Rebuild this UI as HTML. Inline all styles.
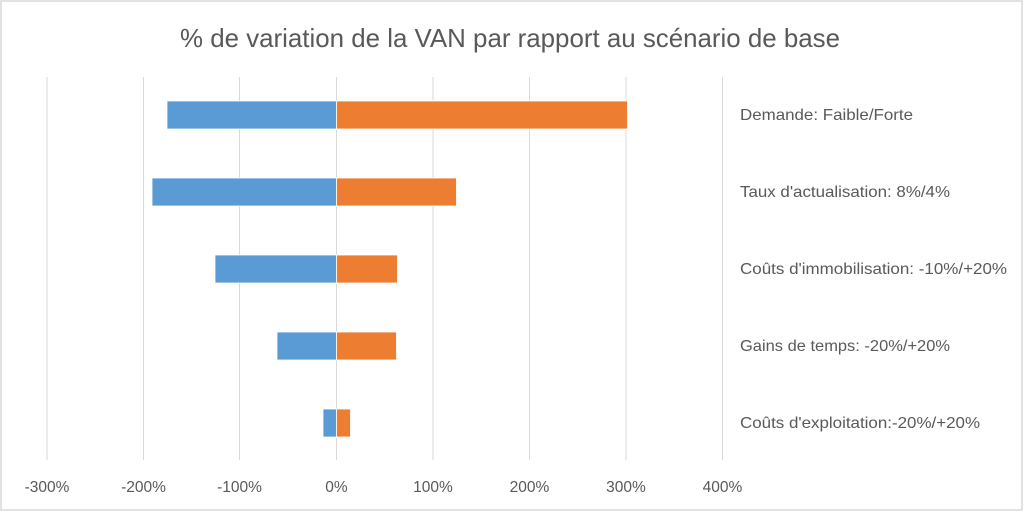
<!DOCTYPE html>
<html><head><meta charset="utf-8"><style>
html,body{margin:0;padding:0;background:#fff}
body{width:1024px;height:513px;overflow:hidden}
</style></head><body>
<svg width="1024" height="513" xmlns="http://www.w3.org/2000/svg" font-family="Liberation Sans, sans-serif">
<rect x="1" y="1" width="1021" height="509" fill="#fff" stroke="#d9d9d9" stroke-width="1.5"/>
<text x="180" y="47" font-size="26" fill="#595959" textLength="660" lengthAdjust="spacingAndGlyphs">% de variation de la VAN par rapport au scénario de base</text>
<g stroke="#d9d9d9" stroke-width="1">
<line x1="47" y1="77" x2="47" y2="460"/>
<line x1="143.5" y1="77" x2="143.5" y2="460"/>
<line x1="239.5" y1="77" x2="239.5" y2="460"/>
<line x1="336.5" y1="77" x2="336.5" y2="460"/>
<line x1="433" y1="77" x2="433" y2="460"/>
<line x1="529.5" y1="77" x2="529.5" y2="460"/>
<line x1="626" y1="77" x2="626" y2="460"/>
<line x1="722.5" y1="77" x2="722.5" y2="460"/>
</g>
<g fill="#5b9bd5" stroke="#fff" stroke-width="0.8">
<rect x="167" y="101" width="169.5" height="28"/>
<rect x="152" y="178" width="184.5" height="28"/>
<rect x="215" y="255" width="121.5" height="28"/>
<rect x="277" y="332" width="59.5" height="28"/>
<rect x="323" y="409" width="13.5" height="28"/>
</g>
<g fill="#ed7d31" stroke="#fff" stroke-width="0.8">
<rect x="336.5" y="101" width="291" height="28"/>
<rect x="336.5" y="178" width="120" height="28"/>
<rect x="336.5" y="255" width="61" height="28"/>
<rect x="336.5" y="332" width="60" height="28"/>
<rect x="336.5" y="409" width="14" height="28"/>
</g>
<g font-size="16" fill="#595959">
<text x="740" y="120" textLength="173" lengthAdjust="spacingAndGlyphs">Demande: Faible/Forte</text>
<text x="740" y="197" textLength="210" lengthAdjust="spacingAndGlyphs">Taux d'actualisation: 8%/4%</text>
<text x="740" y="274" textLength="267" lengthAdjust="spacingAndGlyphs">Coûts d'immobilisation: -10%/+20%</text>
<text x="740" y="351" textLength="210" lengthAdjust="spacingAndGlyphs">Gains de temps: -20%/+20%</text>
<text x="740" y="428" textLength="240" lengthAdjust="spacingAndGlyphs">Coûts d'exploitation:-20%/+20%</text>
</g>
<g font-size="15.5" fill="#595959" text-anchor="middle">
<text x="47" y="492">-300%</text>
<text x="143.5" y="492">-200%</text>
<text x="239.5" y="492">-100%</text>
<text x="336.5" y="492">0%</text>
<text x="433" y="492">100%</text>
<text x="529.5" y="492">200%</text>
<text x="626" y="492">300%</text>
<text x="722.5" y="492">400%</text>
</g>
</svg>
</body></html>
